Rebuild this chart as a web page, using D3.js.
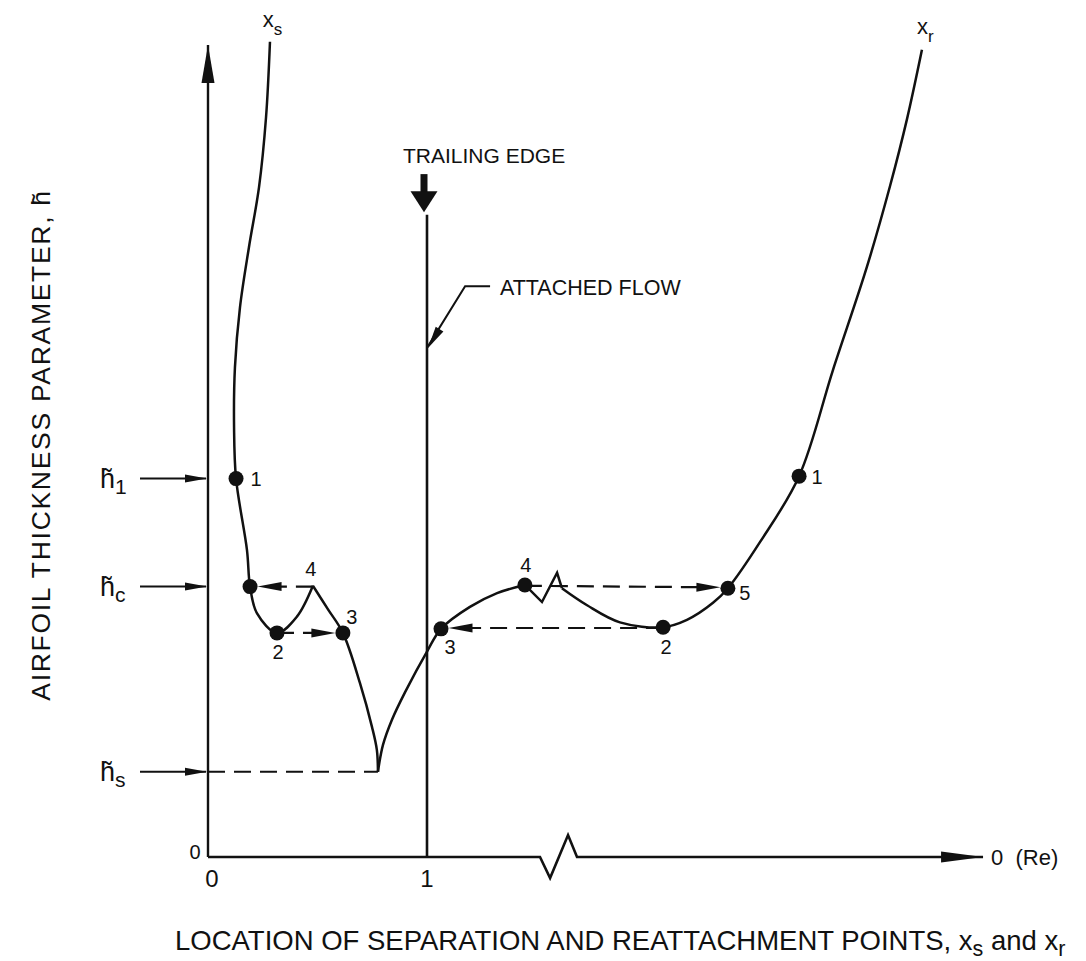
<!DOCTYPE html>
<html>
<head>
<meta charset="utf-8">
<script src="https://cdn.jsdelivr.net/npm/d3@7"></script>
<style>
  body { margin: 0; background: #fff; }
  svg { display: block; }
  text { font-family: "Liberation Sans", Arial, Helvetica, sans-serif; fill: #111; }
</style>
</head>
<body>
<svg id="chart" width="1086" height="961"></svg>
<script>
// ---- data (location x, thickness parameter h) ----
// separation branch x_s: upper part down to the local peak "4"
const xsUpper = [[0.283,10.04],[0.265,9.11],[0.233,8.25],[0.187,7.51],[0.146,6.77],[0.123,6.03],[0.119,5.29],
                 [0.128,4.66],[0.178,3.78],[0.192,3.33],[0.224,3.00],[0.315,2.76],[0.406,2.96],[0.479,3.34]];
// separation branch x_s: from peak "4" down to the cusp at h_s
const xsLower = [[0.479,3.34],[0.548,3.05],[0.616,2.76],[0.694,2.14],[0.749,1.60],[0.771,1.32],[0.776,1.05]];
// reattachment branch x_r: from the cusp up to point "4"
const xrLower = [[0.776,1.05],[0.799,1.38],[0.840,1.69],[0.900,2.03],[1.0,2.53],[1.064,2.81],[1.196,3.08],[1.320,3.25],[1.447,3.35]];
// scale-break zigzag on the x_r branch
const xrBreak = [[1.447,3.35],[1.525,3.14],[1.594,3.50],[1.616,3.31]];
// reattachment branch x_r: beyond the break
const xrUpper = [[1.616,3.31],[1.731,3.10],[1.881,2.89],[2.078,2.83],[2.187,2.92],[2.306,3.13],[2.374,3.31],
                 [2.521,3.88],[2.699,4.69],[2.854,6.00],[3.009,7.27],[3.114,8.26],[3.192,9.09],[3.260,9.94]];

// marked states
const xsDotX = [0.128, 0.192, 0.315, 0.616];
const xsDotH = [4.66, 3.33, 2.76, 2.76];
const xsDotLabels = ["1", "", "2", "3"];
const xsPeak = [0.479, 3.34];
const xsPeakLabel = "4";
const xrDotX = [1.064, 1.447, 2.078, 2.374, 2.699];
const xrDotH = [2.81, 3.35, 2.83, 3.31, 4.69];
const xrDotLabels = ["3", "4", "2", "5", "1"];

// jumps between branches (from, to)
const jumps = [
  [[0.479,3.33],[0.192,3.33]],
  [[0.315,2.76],[0.616,2.76]],
  [[2.078,2.82],[1.064,2.82]],
  [[1.447,3.34],[2.374,3.32]]
];

// thickness levels on the vertical axis
const levelNames = ["1", "c", "s"];
const levelValues = [4.66, 3.33, 1.05];

// horizontal axis
const xTickValues = [0, 1];
const xTickLabels = ["0", "1"];
const xAxisEnd = 3.539;
const xBreak = [[1.516,0],[1.562,-0.26],[1.644,0.27],[1.685,0]];
const yAxisTop = 10;
const trailingEdge = 1;

// ---- scales ----
const x = d3.scaleLinear().domain([0, 1]).range([208, 427]);
const y = d3.scaleLinear().domain([0, 10]).range([857, 45]);

const svg = d3.select("#chart");
const ink = "#111";
const line = d3.line().x(d => x(d[0])).y(d => y(d[1]));
const smooth = d3.line().x(d => x(d[0])).y(d => y(d[1])).curve(d3.curveCatmullRom.alpha(0.5));

// arrowhead polygon with tip at (tx,ty), pointing along angle a
function head(tx, ty, a, len, half) {
  const bx = tx - len * Math.cos(a), by = ty - len * Math.sin(a);
  const nx = -Math.sin(a) * half, ny = Math.cos(a) * half;
  return `M${tx},${ty}L${bx + nx},${by + ny}L${bx - nx},${by - ny}Z`;
}

// ---- axes ----
svg.append("path")
  .attr("d", line([[0, 0], [0, yAxisTop]]))
  .attr("stroke", ink).attr("stroke-width", 2.4).attr("fill", "none");
svg.append("path").attr("d", head(x(0), y(yAxisTop), -Math.PI / 2, 38, 6.5)).attr("fill", ink);

svg.append("path")
  .attr("d", line([[0, 0], ...xBreak, [xAxisEnd, 0]]))
  .attr("stroke", ink).attr("stroke-width", 2.6).attr("fill", "none").attr("stroke-linejoin", "miter");
svg.append("path").attr("d", head(x(xAxisEnd), y(0), 0, 42, 5.5)).attr("fill", ink);

svg.selectAll(".xt").data(xTickValues).join("text")
  .attr("x", d => x(d) + (d === 0 ? 4 : 0)).attr("y", y(0) + 30)
  .attr("text-anchor", "middle").attr("font-size", 24)
  .text((d, i) => xTickLabels[i]);
svg.append("text").attr("x", x(0) - 13).attr("y", y(0) + 2)
  .attr("text-anchor", "middle").attr("font-size", 20).text("0");
svg.append("text").attr("x", x(xAxisEnd) + 8).attr("y", y(0) + 8)
  .attr("font-size", 22).attr("xml:space", "preserve").text("0  (Re)");

// level arrows and names on the vertical axis
levelValues.forEach((v, i) => {
  svg.append("path").attr("d", `M${x(0) - 68},${y(v)}L${x(0) - 2},${y(v)}`)
    .attr("stroke", ink).attr("stroke-width", 2);
  svg.append("path").attr("d", head(x(0) - 1, y(v), 0, 22, 4)).attr("fill", ink);
  const t = svg.append("text").attr("x", x(0) - 108).attr("y", y(v) + 9).attr("font-size", 27);
  t.append("tspan").text("h\u0303");
  t.append("tspan").attr("font-size", 21).attr("dy", 6).text(levelNames[i]);
});

// dashed line from the axis to the cusp at h_s
svg.append("path")
  .attr("d", line([[0, levelValues[2]], [0.776, levelValues[2]]]))
  .attr("stroke", ink).attr("stroke-width", 2.2).attr("stroke-dasharray", "17,9").attr("fill", "none");

// ---- trailing edge ----
svg.append("path").attr("d", line([[trailingEdge, 0], [trailingEdge, 7.91]]))
  .attr("stroke", ink).attr("stroke-width", 2.6);
svg.append("rect").attr("x", x(trailingEdge) - 6.5).attr("y", y(8.41)).attr("width", 7).attr("height", y(8.18) - y(8.41)).attr("fill", ink);
svg.append("path").attr("d", head(x(trailingEdge) - 3, y(7.94), Math.PI / 2, 21, 13.5)).attr("fill", ink);
svg.append("text").attr("x", x(trailingEdge) - 24).attr("y", y(8.41) - 11)
  .attr("font-size", 21).text("TRAILING EDGE");

// attached-flow leader
const leader = [[1.288, 7.03], [1.174, 7.03], [1.0, 6.27]];
svg.append("path").attr("d", line(leader)).attr("stroke", ink).attr("stroke-width", 2).attr("fill", "none");
{
  const a = Math.atan2(y(6.27) - y(7.03), x(1.0) - x(1.174));
  svg.append("path").attr("d", head(x(1.0) + 1, y(6.27), a, 22, 4.5)).attr("fill", ink);
}
svg.append("text").attr("x", x(1.333)).attr("y", y(7.03) + 9).attr("font-size", 21.5).text("ATTACHED FLOW");

// ---- curves ----
[xsUpper, xsLower, xrLower, xrUpper].forEach(seg => {
  svg.append("path").attr("d", smooth(seg))
    .attr("stroke", ink).attr("stroke-width", 2.5).attr("fill", "none");
});
svg.append("path").attr("d", line(xrBreak))
  .attr("stroke", ink).attr("stroke-width", 2.5).attr("fill", "none").attr("stroke-linejoin", "miter");

// ---- jumps (dashed arrows) ----
const dotR = 7.5;
jumps.forEach(([p, q]) => {
  const x0 = x(p[0]), y0 = y(p[1]), x1 = x(q[0]), y1 = y(q[1]);
  const a = Math.atan2(y1 - y0, x1 - x0);
  const tx = x1 - dotR * Math.cos(a), ty = y1 - dotR * Math.sin(a);
  svg.append("path").attr("d", `M${x0},${y0}L${tx - 14 * Math.cos(a)},${ty - 14 * Math.sin(a)}`)
    .attr("stroke", ink).attr("stroke-width", 2.2).attr("stroke-dasharray", "17,9").attr("fill", "none");
  svg.append("path").attr("d", head(tx, ty, a, 24, 4.5)).attr("fill", ink);
});

// ---- dots and state numbers ----
const labelOffsets = {
  xs: [[20, 0], [0, 0], [1, 19], [9, -16]],
  xr: [[9, 18], [1, -20], [3, 20], [17, 5], [18, 1]]
};
xsDotX.forEach((u, i) => {
  svg.append("circle").attr("cx", x(u)).attr("cy", y(xsDotH[i])).attr("r", dotR).attr("fill", ink);
  if (xsDotLabels[i]) {
    svg.append("text").attr("x", x(u) + labelOffsets.xs[i][0]).attr("y", y(xsDotH[i]) + labelOffsets.xs[i][1] + 7)
      .attr("text-anchor", "middle").attr("font-size", 20).text(xsDotLabels[i]);
  }
});
svg.append("text").attr("x", x(xsPeak[0]) - 2).attr("y", y(xsPeak[1]) - 10)
  .attr("text-anchor", "middle").attr("font-size", 20).text(xsPeakLabel);
xrDotX.forEach((u, i) => {
  svg.append("circle").attr("cx", x(u)).attr("cy", y(xrDotH[i])).attr("r", dotR).attr("fill", ink);
  svg.append("text").attr("x", x(u) + labelOffsets.xr[i][0]).attr("y", y(xrDotH[i]) + labelOffsets.xr[i][1] + 7)
    .attr("text-anchor", "middle").attr("font-size", 20).text(xrDotLabels[i]);
});

// branch names
function subLabel(px, py, main, sub) {
  const t = svg.append("text").attr("x", px).attr("y", py).attr("font-size", 22);
  t.append("tspan").text(main);
  t.append("tspan").attr("font-size", 17).attr("dy", 8).text(sub);
}
subLabel(x(0.250), y(10.04) - 15, "x", "s");
subLabel(x(3.238), y(9.94) - 16, "x", "r");

// ---- axis titles ----
{
  const t = svg.append("text").attr("x", 175).attr("y", 950).attr("font-size", 27.5);
  t.append("tspan").text("LOCATION OF SEPARATION AND REATTACHMENT POINTS, x");
  t.append("tspan").attr("font-size", 21.5).attr("dy", 6).text("s");
  t.append("tspan").attr("dy", -6).text(" and x");
  t.append("tspan").attr("font-size", 21.5).attr("dy", 6).text("r");
}
svg.append("text")
  .attr("transform", "translate(50,445) rotate(-90)")
  .attr("text-anchor", "middle").attr("font-size", 26.5).attr("letter-spacing", 1.7)
  .text("AIRFOIL THICKNESS PARAMETER, h\u0303");
</script>
</body>
</html>
